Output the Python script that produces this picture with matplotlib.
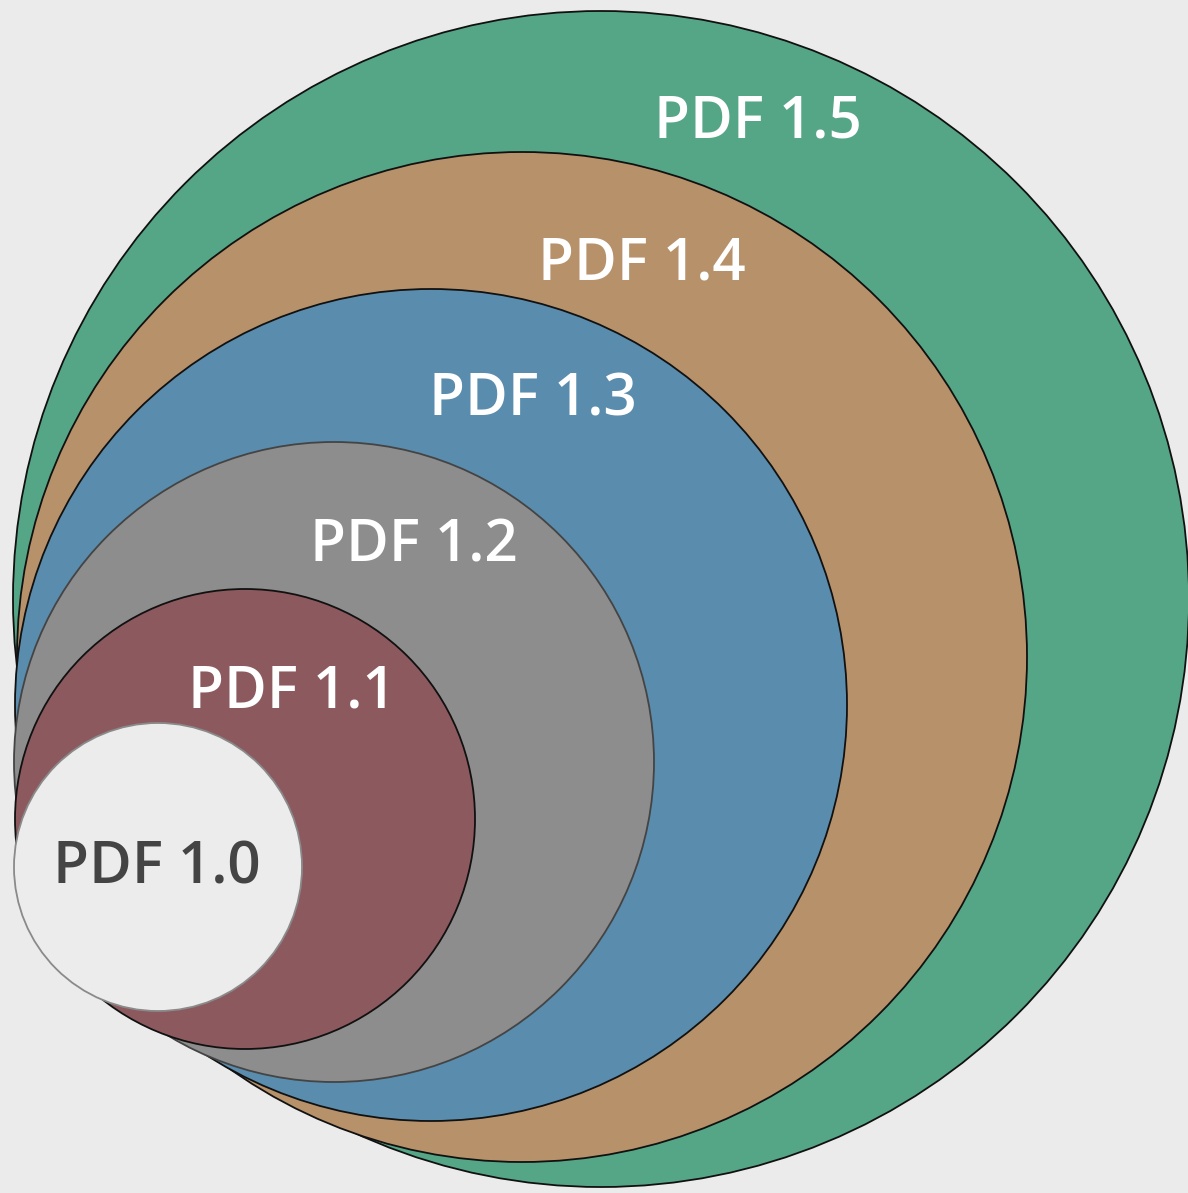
import matplotlib.pyplot as plt
from matplotlib.patches import Circle

# circles, largest first (pixel coords, y down)
labels = ["PDF 1.5", "PDF 1.4", "PDF 1.3", "PDF 1.2", "PDF 1.1", "PDF 1.0"]
center_x = [601, 522, 431, 334, 245, 158]
center_y = [599, 657, 705, 762, 819, 867]
radius = [588, 505, 416, 320, 230, 144]
label_x = [758, 642, 533, 414, 292, 157]
label_y = [122, 265, 400, 547, 692, 869]

colors = ["#55a686", "#b6916a", "#5a8cad", "#8d8d8d", "#8c5a5e", "#ececec"]
edges = ["#111111", "#111111", "#111111", "#444444", "#111111", "#8a8a8a"]
text_colors = ["white"] * 5 + ["#444444"]

W, H = 1188, 1193
fig = plt.figure(figsize=(W / 100, H / 100), dpi=100)
fig.patch.set_facecolor("#ebebeb")
ax = fig.add_axes([0, 0, 1, 1])
ax.set_facecolor("#ebebeb")
ax.set_xlim(0, W)
ax.set_ylim(H, 0)
ax.set_aspect("equal")
ax.axis("off")

for i in range(len(labels)):
    c = Circle((center_x[i], center_y[i]), radius[i], facecolor=colors[i],
               edgecolor=edges[i], linewidth=1.3)
    ax.add_patch(c)
    ax.text(label_x[i], label_y[i], labels[i], color=text_colors[i],
            fontsize=42, family="Open Sans", fontweight="semibold",
            ha="center", va="center")

fig.savefig("out.png", dpi=100, facecolor=fig.get_facecolor())
